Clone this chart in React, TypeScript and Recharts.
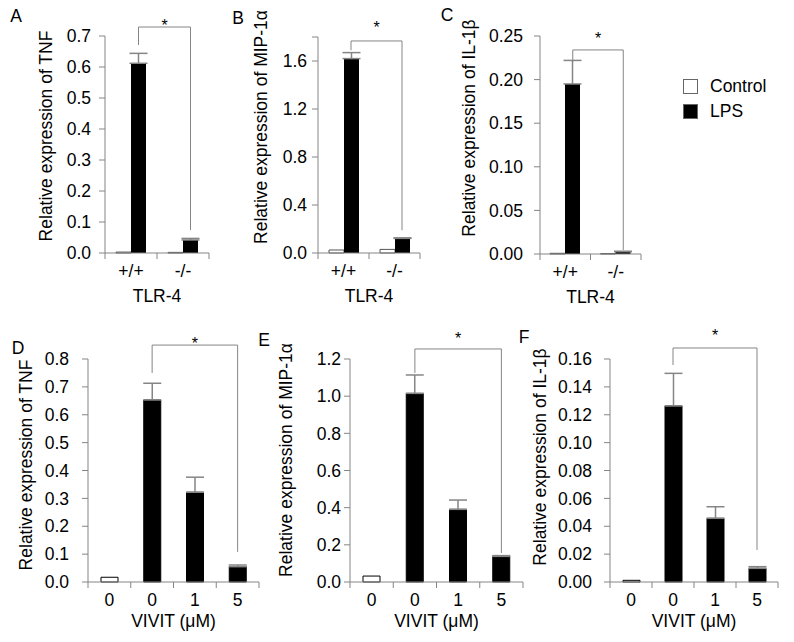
import React from "react";
import { BarChart, Bar, XAxis, YAxis, ErrorBar, Cell, ReferenceLine, Legend } from "recharts";

const FONT = "'Liberation Sans', Arial, sans-serif";
const AXIS = "#858585";
const FS = 17.5;

// top row: TLR-4 genotype, control vs LPS
const tlrGroups = ["+/+", "-/-"];
const tnfControl = [0.003, 0.002];
const tnfLps = [0.612, 0.042];
const tnfLpsErr = [0.032, 0.005];
const mipControl = [0.025, 0.03];
const mipLps = [1.62, 0.122];
const mipLpsErr = [0.05, 0.004];
const il1Control = [0.0008, 0.0005];
const il1Lps = [0.195, 0.0027];
const il1LpsErr = [0.027, 0.0004];

// bottom row: VIVIT dose (first bar is unstimulated control)
const vivitKeys = ["ctrl-0", "lps-0", "lps-1", "lps-5"];
const vivitLabels = ["0", "0", "1", "5"];
const vivitGroup = ["Control", "LPS", "LPS", "LPS"];
const vivitTnf = [0.017, 0.653, 0.322, 0.055];
const vivitTnfErr = [null, 0.06, 0.054, 0.006];
const vivitMip = [0.032, 1.015, 0.391, 0.138];
const vivitMipErr = [null, 0.099, 0.05, 0.004];
const vivitIl1 = [0.0012, 0.1263, 0.0457, 0.0098];
const vivitIl1Err = [null, 0.0234, 0.0083, 0.0012];

// y ticks
const tnfTicks = [0, 0.1, 0.2, 0.3, 0.4, 0.5, 0.6, 0.7];
const mipTicks = [0, 0.4, 0.8, 1.2, 1.6, 1.8];
const il1Ticks = [0, 0.05, 0.1, 0.15, 0.2, 0.25];
const vTnfTicks = [0, 0.1, 0.2, 0.3, 0.4, 0.5, 0.6, 0.7, 0.8];
const vMipTicks = [0, 0.2, 0.4, 0.6, 0.8, 1.0, 1.2];
const vIl1Ticks = [0, 0.02, 0.04, 0.06, 0.08, 0.1, 0.12, 0.14, 0.16];

// significance brackets: [top, left foot, right foot]
const sigTnf = [0.729, 0.671, 0.074];
const sigMip = [1.767, 1.69, 0.19];
const sigIl1 = [0.234, 0.22, 0.0046];
const sigVTnf = [0.85, 0.75, 0.108];
const sigVMip = [1.254, 1.125, 0.156];
const sigVIl1 = [0.1679, 0.1557, 0.023];

const tlrRows = (c: number[], l: number[], e: number[]) =>
  tlrGroups.map((g, i) => ({ group: g, control: c[i], lps: l[i], lpsErr: [0, e[i]] }));

const vivitRows = (v: number[], e: (number | null)[]) =>
  vivitKeys.map((k, i) => ({ key: k, value: v[i], err: e[i] == null ? null : [0, e[i]] }));

type PanelProps = {
  px: number; py: number; w: number; h: number;
  extraRight?: number;
  data: any[];
  xKey: string;
  xLabels: string[];
  xTitle: string;
  xTitleGap: number;
  yDomain: [number, number];
  yTicks: number[];
  yDigits: number;
  tickGap: number;
  hideTop?: boolean;
  yTitle: string;
  yTitleAt: [number, number];
  letter: string;
  letterAt: [number, number];
  sigFrom: string;
  sigTo: string;
  sig: number[];
  sigShift: number;
  starDy: number;
  children: React.ReactNode;
};

function Panel(p: PanelProps) {
  const ML = 100, MT = 60, XH = 55;
  const extra = p.extraRight ?? 0;
  const width = p.w + 110 + extra;
  const height = p.h + 120;
  const ox = p.px - ML;
  const oy = p.py - MT;
  const bottom = MT + p.h;
  const n = p.xLabels.length;
  const band = p.w / n;

  const tick = (t: any) => {
    const left = t.x - band / 2;
    return (
      <g>
        <line x1={left} x2={left} y1={bottom} y2={bottom + 6} stroke={AXIS} />
        {t.index === n - 1 && <line x1={left + band} x2={left + band} y1={bottom} y2={bottom + 6} stroke={AXIS} />}
        <text x={t.x} y={bottom + 12} dy="0.71em" textAnchor="middle" fontSize={FS} fontFamily={FONT} fill="#000">
          {p.xLabels[t.index]}
        </text>
      </g>
    );
  };

  const xTitle = () => (
    <text x={ML + p.w / 2} y={bottom + p.xTitleGap} textAnchor="middle" fontSize={FS} fontFamily={FONT} fill="#000">
      {p.xTitle}
    </text>
  );

  const yTitle = () => {
    const cx = p.yTitleAt[0] - ox;
    const cy = p.yTitleAt[1] - oy;
    return (
      <g>
        <text x={cx} y={cy} dy="0.26em" transform={`rotate(-90 ${cx} ${cy})`} textAnchor="middle" fontSize={FS} fontFamily={FONT} fill="#000">
          {p.yTitle}
        </text>
        <text x={p.letterAt[0] - ox} y={p.letterAt[1] - oy} dy="0.36em" textAnchor="middle" fontSize={FS} fontFamily={FONT} fill="#000">
          {p.letter}
        </text>
      </g>
    );
  };

  const seg = (star: boolean) => (s: any) => (
    <g>
      <line x1={s.x1 + p.sigShift} y1={s.y1} x2={s.x2 + p.sigShift} y2={s.y2} stroke={AXIS} strokeWidth={1} />
      {star && (
        <text x={(s.x1 + s.x2) / 2 + p.sigShift} y={s.y1 + p.starDy} textAnchor="middle" fontSize={16} fontFamily={FONT} fill="#000">
          *
        </text>
      )}
    </g>
  );

  const [top, leftFoot, rightFoot] = p.sig;

  return (
    <div style={{ position: "absolute", left: ox, top: oy }}>
      <BarChart
        width={width}
        height={height}
        data={p.data}
        margin={{ top: MT, right: 10 + extra, bottom: 5, left: 0 }}
        barGap={0}
      >
        <XAxis
          dataKey={p.xKey}
          height={XH}
          axisLine={{ stroke: AXIS }}
          tickLine={false}
          tick={tick}
          interval={0}
          label={xTitle}
        />
        <YAxis
          width={ML}
          domain={p.yDomain}
          ticks={p.yTicks}
          interval={0}
          axisLine={{ stroke: AXIS }}
          tickLine={{ stroke: AXIS }}
          tickSize={6}
          tickMargin={p.tickGap}
          tick={{ fill: "#000", fontSize: FS, fontFamily: FONT }}
          tickFormatter={(v: number, i: number) =>
            p.hideTop && i === p.yTicks.length - 1 ? "" : v.toFixed(p.yDigits)
          }
          label={yTitle}
        />
        {p.children}
        <ReferenceLine ifOverflow="visible" segment={[{ x: p.sigFrom, y: top }, { x: p.sigTo, y: top }]} shape={seg(true)} />
        <ReferenceLine ifOverflow="visible" segment={[{ x: p.sigFrom, y: top }, { x: p.sigFrom, y: leftFoot }]} shape={seg(false)} />
        <ReferenceLine ifOverflow="visible" segment={[{ x: p.sigTo, y: top }, { x: p.sigTo, y: rightFoot }]} shape={seg(false)} />
      </BarChart>
    </div>
  );
}

const tlrBars = [
  <Bar key="c" dataKey="control" name="Control" fill="#ffffff" stroke="#555" barSize={15} isAnimationActive={false} />,
  <Bar key="l" dataKey="lps" name="LPS" fill="#000000" barSize={15} isAnimationActive={false}>
    <ErrorBar dataKey="lpsErr" width={9} stroke={AXIS} direction="y" />
  </Bar>,
];

const vivitBar = (
  <Bar dataKey="value" barSize={17} isAnimationActive={false}>
    {vivitGroup.map((g, i) => (
      <Cell key={i} fill={g === "LPS" ? "#000000" : "#ffffff"} stroke="#000" />
    ))}
    <ErrorBar dataKey="err" width={9} stroke={AXIS} direction="y" />
  </Bar>
);

const renderLegend = (props: any) => (
  <div style={{ fontFamily: FONT, fontSize: FS, color: "#000" }}>
    {(props.payload || []).map((e: any) => (
      <div key={e.value} style={{ display: "flex", alignItems: "center", height: 25 }}>
        <span
          style={{
            display: "inline-block",
            width: 15,
            height: 15,
            background: e.color,
            border: "1px solid #666",
            boxSizing: "border-box",
            marginRight: 12,
          }}
        />
        <span>{e.value}</span>
      </div>
    ))}
  </div>
);

export default function App() {
  return (
    <div style={{ position: "absolute", left: 0, top: 0, width: 794, height: 642, background: "#fff", overflow: "hidden" }}>
      <Panel
        px={105} py={36} w={104} h={217}
        data={tlrRows(tnfControl, tnfLps, tnfLpsErr)} xKey="group" xLabels={tlrGroups}
        xTitle="TLR-4" xTitleGap={49}
        yDomain={[0, 0.7]} yTicks={tnfTicks} yDigits={1} tickGap={8}
        yTitle="Relative expression of TNF" yTitleAt={[47, 136]}
        letter="A" letterAt={[16, 16]}
        sigFrom="+/+" sigTo="-/-" sig={sigTnf} sigShift={7.5} starDy={4}
      >
        {tlrBars}
      </Panel>
      <Panel
        px={318} py={37} w={102} h={216}
        data={tlrRows(mipControl, mipLps, mipLpsErr)} xKey="group" xLabels={tlrGroups}
        xTitle="TLR-4" xTitleGap={49}
        yDomain={[0, 1.8]} yTicks={mipTicks} yDigits={1} tickGap={5} hideTop
        yTitle="Relative expression of MIP-1α" yTitleAt={[262, 127]}
        letter="B" letterAt={[238, 18]}
        sigFrom="+/+" sigTo="-/-" sig={sigMip} sigShift={7.5} starDy={-8}
      >
        {tlrBars}
      </Panel>
      <Panel
        px={540} py={36} w={101} h={218} extraRight={150}
        data={tlrRows(il1Control, il1Lps, il1LpsErr)} xKey="group" xLabels={tlrGroups}
        xTitle="TLR-4" xTitleGap={49}
        yDomain={[0, 0.25]} yTicks={il1Ticks} yDigits={2} tickGap={11}
        yTitle="Relative expression of IL-1β" yTitleAt={[470, 128]}
        letter="C" letterAt={[447, 15]}
        sigFrom="+/+" sigTo="-/-" sig={sigIl1} sigShift={7.5} starDy={-6}
      >
        {tlrBars}
        <Legend
          layout="vertical"
          align="center"
          verticalAlign="middle"
          content={renderLegend}
          wrapperStyle={{ left: 683 - 440, top: 98, width: 100, height: 50 }}
        />
      </Panel>
      <Panel
        px={88} py={359} w={171} h={223}
        data={vivitRows(vivitTnf, vivitTnfErr)} xKey="key" xLabels={vivitLabels}
        xTitle="VIVIT (μM)" xTitleGap={45}
        yDomain={[0, 0.8]} yTicks={vTnfTicks} yDigits={1} tickGap={13}
        yTitle="Relative expression of TNF" yTitleAt={[27, 465]}
        letter="D" letterAt={[18, 348]}
        sigFrom="lps-0" sigTo="lps-5" sig={sigVTnf} sigShift={0} starDy={4}
      >
        {vivitBar}
      </Panel>
      <Panel
        px={350} py={359} w={173} h={223}
        data={vivitRows(vivitMip, vivitMipErr)} xKey="key" xLabels={vivitLabels}
        xTitle="VIVIT (μM)" xTitleGap={45}
        yDomain={[0, 1.2]} yTicks={vMipTicks} yDigits={1} tickGap={3}
        yTitle="Relative expression of MIP-1α" yTitleAt={[287, 460]}
        letter="E" letterAt={[264, 340]}
        sigFrom="lps-0" sigTo="lps-5" sig={sigVMip} sigShift={0} starDy={-5}
      >
        {vivitBar}
      </Panel>
      <Panel
        px={610} py={359} w={168} h={223}
        data={vivitRows(vivitIl1, vivitIl1Err)} xKey="key" xLabels={vivitLabels}
        xTitle="VIVIT (μM)" xTitleGap={45}
        yDomain={[0, 0.16]} yTicks={vIl1Ticks} yDigits={2} tickGap={12}
        yTitle="Relative expression of IL-1β" yTitleAt={[541, 457]}
        letter="F" letterAt={[524, 337]}
        sigFrom="lps-0" sigTo="lps-5" sig={sigVIl1} sigShift={0} starDy={-7}
      >
        {vivitBar}
      </Panel>
    </div>
  );
}
